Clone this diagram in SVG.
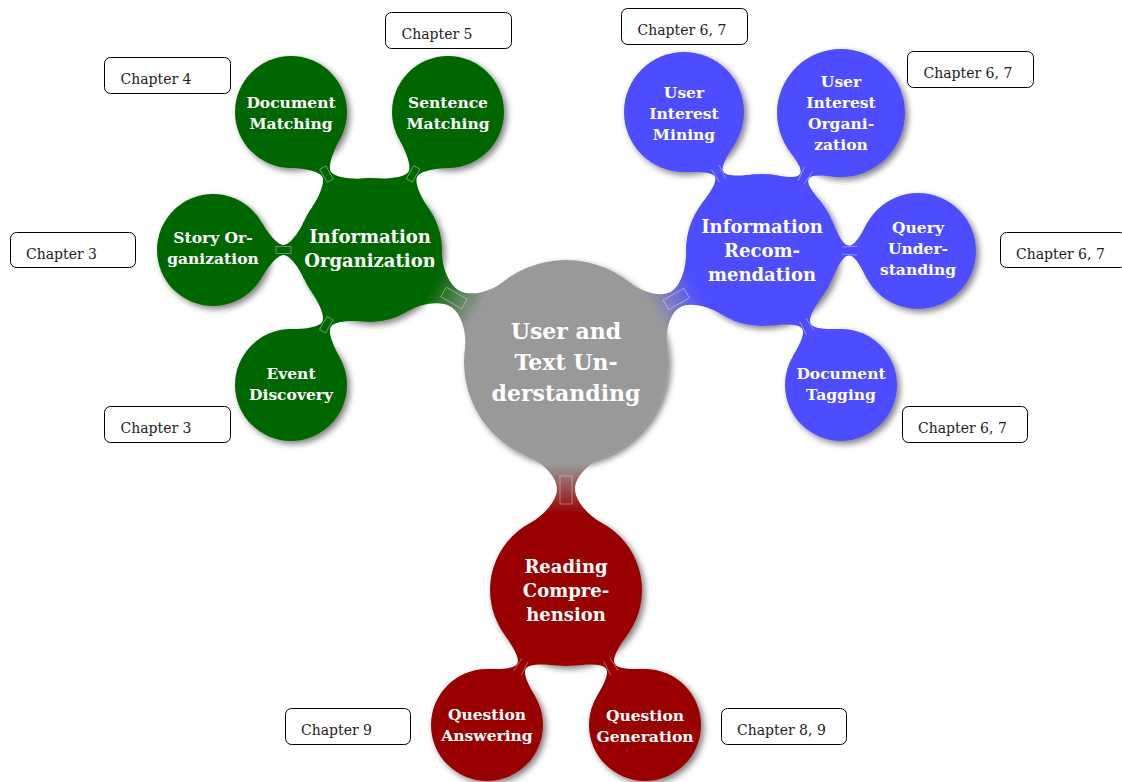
<svg xmlns="http://www.w3.org/2000/svg" width="1122" height="782" viewBox="0 0 1122 782">
  <style>
    .sh { filter: url(#shadow); }
    .grey { fill: #999999; }
    .green { fill: #006600; }
    .blue { fill: #4d4dff; }
    .red { fill: #990000; }
    .t { font-family: "DejaVu Serif", "Liberation Serif", serif; font-weight: bold; fill: #ffffff; text-anchor: middle; }
    .t1 { font-size: 22px; }
    .t2 { font-size: 18px; }
    .t3 { font-size: 15.5px; }
    .box rect { fill: #ffffff; stroke: #000000; stroke-width: 1; }
    .box text { font-family: "DejaVu Serif", "Liberation Serif", serif; font-size: 14px; fill: #222222; }
    .neck { fill: none; stroke: #ffffff; stroke-width: 0.6; opacity: 0.6; }
  </style>
  <defs>
    <filter id="shadow" x="-20%" y="-20%" width="140%" height="140%">
      <feGaussianBlur in="SourceAlpha" stdDeviation="3"/>
      <feOffset dx="2.5" dy="3" result="b"/>
      <feFlood flood-color="#000000" flood-opacity="0.5"/>
      <feComposite in2="b" operator="in"/>
      <feMerge>
        <feMergeNode/>
        <feMergeNode in="SourceGraphic"/>
      </feMerge>
    </filter>
    <linearGradient id="gr-green" gradientUnits="userSpaceOnUse" x1="102" y1="0" x2="153.7" y2="0">
      <stop offset="0" stop-color="#999999"/>
      <stop offset="1" stop-color="#006600"/>
    </linearGradient>
    <linearGradient id="gr-blue" gradientUnits="userSpaceOnUse" x1="102" y1="0" x2="149.7" y2="0">
      <stop offset="0" stop-color="#999999"/>
      <stop offset="1" stop-color="#4d4dff"/>
    </linearGradient>
    <linearGradient id="gr-red" gradientUnits="userSpaceOnUse" x1="102" y1="0" x2="152" y2="0">
      <stop offset="0" stop-color="#999999"/>
      <stop offset="1" stop-color="#990000"/>
    </linearGradient>
  </defs>

  <!-- centre concept -->
  <g id="n-center">
    <circle class="grey sh" cx="566" cy="362" r="102"/>
    <text class="t t1"><tspan x="566" y="339">User and</tspan><tspan x="566" y="370">Text Un-</tspan><tspan x="566" y="401">derstanding</tspan></text>
  </g>

  <!-- information organization branch -->
  <g id="n-doc-matching">
    <circle class="green sh" cx="291" cy="112" r="56"/>
    <text class="t t3"><tspan x="291" y="108">Document</tspan><tspan x="291" y="129">Matching</tspan></text>
  </g>
  <g id="n-sent-matching">
    <circle class="green sh" cx="448" cy="112" r="56"/>
    <text class="t t3"><tspan x="448" y="108">Sentence</tspan><tspan x="448" y="129">Matching</tspan></text>
  </g>
  <g id="n-story">
    <circle class="green sh" cx="213" cy="250" r="56"/>
    <text class="t t3"><tspan x="213" y="243">Story Or-</tspan><tspan x="213" y="264">ganization</tspan></text>
  </g>
  <g id="n-event">
    <circle class="green sh" cx="291" cy="385" r="56"/>
    <text class="t t3"><tspan x="291" y="379">Event</tspan><tspan x="291" y="400">Discovery</tspan></text>
  </g>
  <g id="n-info-org">
    <circle class="green sh" cx="370" cy="250" r="72"/>
    <text class="t t2"><tspan x="370" y="243">Information</tspan><tspan x="370" y="267">Organization</tspan></text>
  </g>

  <!-- information recommendation branch -->
  <g id="n-uim">
    <circle class="blue sh" cx="684" cy="112" r="60"/>
    <text class="t t3"><tspan x="684" y="98">User</tspan><tspan x="684" y="119">Interest</tspan><tspan x="684" y="140">Mining</tspan></text>
  </g>
  <g id="n-uio">
    <circle class="blue sh" cx="841" cy="113" r="64"/>
    <text class="t t3"><tspan x="841" y="87">User</tspan><tspan x="841" y="108">Interest</tspan><tspan x="841" y="129">Organi-</tspan><tspan x="841" y="150">zation</tspan></text>
  </g>
  <g id="n-query">
    <circle class="blue sh" cx="918" cy="251" r="58"/>
    <text class="t t3"><tspan x="918" y="233">Query</tspan><tspan x="918" y="254">Under-</tspan><tspan x="918" y="275">standing</tspan></text>
  </g>
  <g id="n-tagging">
    <circle class="blue sh" cx="841" cy="385" r="56"/>
    <text class="t t3"><tspan x="841" y="379">Document</tspan><tspan x="841" y="400">Tagging</tspan></text>
  </g>
  <g id="n-info-rec">
    <circle class="blue sh" cx="762" cy="250" r="76"/>
    <text class="t t2"><tspan x="762" y="233">Information</tspan><tspan x="762" y="257">Recom-</tspan><tspan x="762" y="281">mendation</tspan></text>
  </g>

  <!-- reading comprehension branch -->
  <g id="n-qa">
    <circle class="red sh" cx="487" cy="725" r="56"/>
    <text class="t t3"><tspan x="487" y="720">Question</tspan><tspan x="487" y="741">Answering</tspan></text>
  </g>
  <g id="n-qg">
    <circle class="red sh" cx="645" cy="725" r="56"/>
    <text class="t t3"><tspan x="645" y="721">Question</tspan><tspan x="645" y="742">Generation</tspan></text>
  </g>
  <g id="n-reading">
    <circle class="red sh" cx="566" cy="590" r="76"/>
    <text class="t t2"><tspan x="566" y="573">Reading</tspan><tspan x="566" y="597">Compre-</tspan><tspan x="566" y="621">hension</tspan></text>
  </g>

  <!-- concept connections (local frame: parent centre at origin, child along +x) -->
  <g id="connectors">
    <g transform="translate(566,362) rotate(-150.26)">
      <path fill="url(#gr-green)" d="M94.57,-38.21 C100.56,-23.37 115.85,-9 127.85,-9 C139.85,-9 155.56,-21.44 162.13,-33.8 L162.13,33.8 C155.56,21.44 139.85,9 127.85,9 C115.85,9 100.56,23.37 94.57,38.21 Z"/>
      <rect class="neck" x="117" y="-5.5" width="24" height="11"/>
    </g>
    <g transform="translate(566,362) rotate(-29.74)">
      <path fill="url(#gr-blue)" d="M94.57,-38.21 C100.56,-23.37 113.85,-9 125.85,-9 C137.85,-9 152.03,-23.32 158.6,-35.68 L158.6,35.68 C152.03,23.32 137.85,9 125.85,9 C113.85,9 100.56,23.37 94.57,38.21 Z"/>
      <rect class="neck" x="115" y="-5.5" width="24" height="11"/>
    </g>
    <g transform="translate(566,362) rotate(90)">
      <path fill="url(#gr-red)" d="M94.57,-38.21 C100.56,-23.37 115,-9 127,-9 C139,-9 154.33,-23.32 160.9,-35.68 L160.9,35.68 C154.33,23.32 139,9 127,9 C115,9 100.56,23.37 94.57,38.21 Z"/>
      <rect class="neck" x="114" y="-6" width="28" height="12"/>
    </g>

    <g class="green" transform="translate(370,250) rotate(-119.8)">
      <path d="M65.77,-29.28 C69.84,-20.15 80.5,-5 87.5,-5 C94.5,-5 106,-20.21 110.5,-28 L110.5,28 C106,20.21 94.5,5 87.5,5 C80.5,5 69.84,20.15 65.77,29.28 Z"/>
      <rect class="neck" x="80" y="-3.5" width="15" height="7"/>
    </g>
    <g class="green" transform="translate(370,250) rotate(-60.5)">
      <path d="M65.77,-29.28 C69.84,-20.15 80.25,-5 87.25,-5 C94.25,-5 105.5,-20.21 110,-28 L110,28 C105.5,20.21 94.25,5 87.25,5 C80.25,5 69.84,20.15 65.77,29.28 Z"/>
      <rect class="neck" x="80" y="-3.5" width="15" height="7"/>
    </g>
    <g class="green" transform="translate(370,250) rotate(180)">
      <path d="M65.77,-29.28 C69.84,-20.15 79.5,-5 86.5,-5 C93.5,-5 104,-20.21 108.5,-28 L108.5,28 C104,20.21 93.5,5 86.5,5 C79.5,5 69.84,20.15 65.77,29.28 Z"/>
      <rect class="neck" x="79" y="-3.5" width="15" height="7"/>
    </g>
    <g class="green" transform="translate(370,250) rotate(120.3)">
      <path d="M65.77,-29.28 C69.84,-20.15 79.2,-5 86.2,-5 C93.2,-5 103.4,-20.21 107.9,-28 L107.9,28 C103.4,20.21 93.2,5 86.2,5 C79.2,5 69.84,20.15 65.77,29.28 Z"/>
      <rect class="neck" x="79" y="-3.5" width="15" height="7"/>
    </g>

    <g class="blue" transform="translate(762,250) rotate(-119.5)">
      <path d="M69.43,-30.91 C73.5,-21.78 80.25,-5 87.25,-5 C94.25,-5 102.04,-22.21 106.54,-30 L106.54,30 C102.04,22.21 94.25,5 87.25,5 C80.25,5 73.5,21.78 69.43,30.91 Z"/>
      <path class="neck" d="M80,-3.5 L95,-4.5 M80,3.5 L95,4.5"/>
    </g>
    <g class="blue" transform="translate(762,250) rotate(-60)">
      <path d="M69.43,-30.91 C73.5,-21.78 78.05,-5 85.05,-5 C92.05,-5 98.18,-24.21 102.68,-32 L102.68,32 C98.18,24.21 92.05,5 85.05,5 C78.05,5 73.5,21.78 69.43,30.91 Z"/>
      <path class="neck" d="M78,-3.5 L93,-4.5 M78,3.5 L93,4.5"/>
    </g>
    <g class="blue" transform="translate(762,250) rotate(0.37)">
      <path d="M69.43,-30.91 C73.5,-21.78 80,-5 87,-5 C94,-5 101.27,-21.21 105.77,-29 L105.77,29 C101.27,21.21 94,5 87,5 C80,5 73.5,21.78 69.43,30.91 Z"/>
      <path class="neck" d="M80,-3.5 L95,-4.5 M80,3.5 L95,4.5"/>
    </g>
    <g class="blue" transform="translate(762,250) rotate(59.7)">
      <path d="M69.43,-30.91 C73.5,-21.78 81.2,-5 88.2,-5 C95.2,-5 103.4,-20.21 107.9,-28 L107.9,28 C103.4,20.21 95.2,5 88.2,5 C81.2,5 73.5,21.78 69.43,30.91 Z"/>
      <path class="neck" d="M81,-3.5 L96,-4.5 M81,3.5 L96,4.5"/>
    </g>

    <g class="red" transform="translate(566,590) rotate(120.3)">
      <path d="M69.43,-30.91 C73.5,-21.78 81.2,-5 88.2,-5 C95.2,-5 103.4,-20.21 107.9,-28 L107.9,28 C103.4,20.21 95.2,5 88.2,5 C81.2,5 73.5,21.78 69.43,30.91 Z"/>
      <path class="neck" d="M81,-3.5 L96,-4.5 M81,3.5 L96,4.5"/>
    </g>
    <g class="red" transform="translate(566,590) rotate(59.7)">
      <path d="M69.43,-30.91 C73.5,-21.78 81.2,-5 88.2,-5 C95.2,-5 103.4,-20.21 107.9,-28 L107.9,28 C103.4,20.21 95.2,5 88.2,5 C81.2,5 73.5,21.78 69.43,30.91 Z"/>
      <path class="neck" d="M81,-3.5 L96,-4.5 M81,3.5 L96,4.5"/>
    </g>
  </g>

  <!-- chapter annotations -->
  <g id="a-doc-matching" class="box"><rect x="104.5" y="57.5" width="126" height="36" rx="6"/><text x="120.5" y="84">Chapter 4</text></g>
  <g id="a-sent-matching" class="box"><rect x="385.5" y="12.5" width="126" height="36" rx="6"/><text x="401.5" y="39">Chapter 5</text></g>
  <g id="a-story" class="box"><rect x="10.5" y="232.5" width="125" height="35" rx="6"/><text x="26" y="258.5">Chapter 3</text></g>
  <g id="a-event" class="box"><rect x="104.5" y="406.5" width="126" height="36" rx="6"/><text x="120.5" y="433">Chapter 3</text></g>
  <g id="a-uim" class="box"><rect x="621.5" y="8.5" width="126" height="36" rx="6"/><text x="637.5" y="35">Chapter 6, 7</text></g>
  <g id="a-uio" class="box"><rect x="907.5" y="51.5" width="126" height="36" rx="6"/><text x="923.5" y="78">Chapter 6, 7</text></g>
  <g id="a-query" class="box"><rect x="1000.5" y="232.5" width="126" height="35" rx="6"/><text x="1016" y="258.5">Chapter 6, 7</text></g>
  <g id="a-tagging" class="box"><rect x="902.5" y="406.5" width="125" height="36" rx="6"/><text x="918" y="433">Chapter 6, 7</text></g>
  <g id="a-qa" class="box"><rect x="285.5" y="708.5" width="125" height="36" rx="6"/><text x="301" y="735">Chapter 9</text></g>
  <g id="a-qg" class="box"><rect x="721.5" y="708.5" width="125" height="36" rx="6"/><text x="737" y="735">Chapter 8, 9</text></g>
</svg>
